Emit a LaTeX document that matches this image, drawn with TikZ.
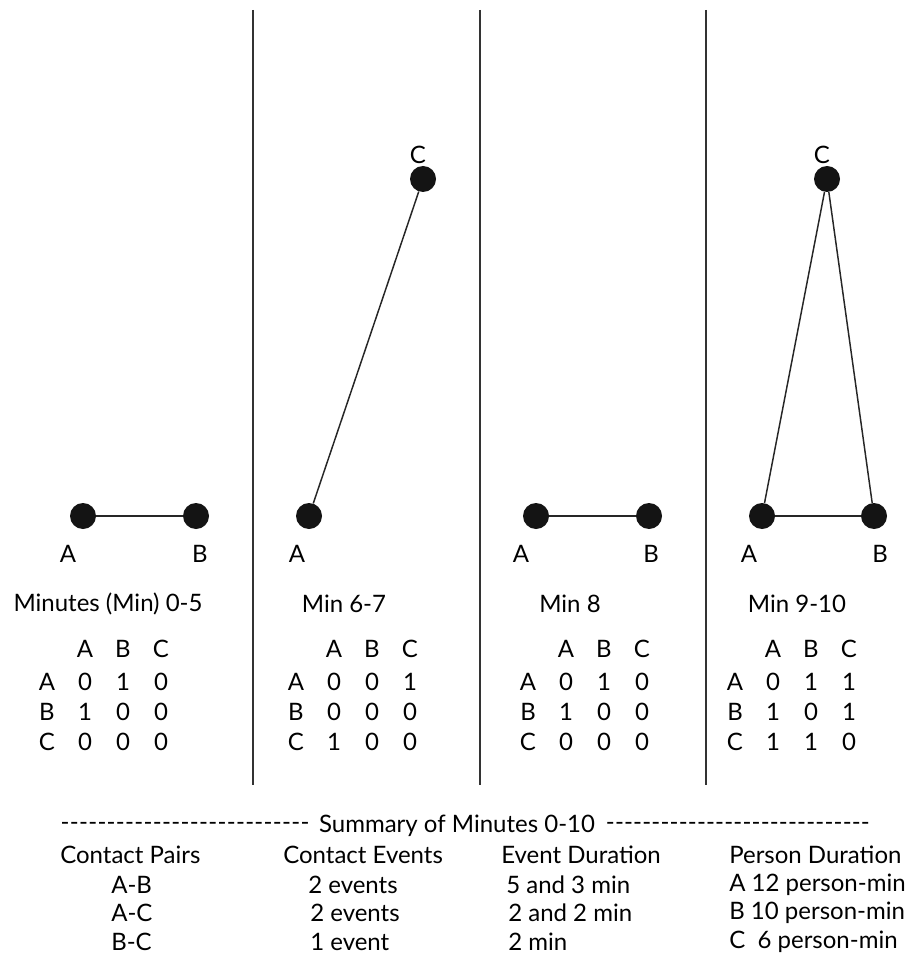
\documentclass[tikz,border=0pt]{standalone}
\usepackage{fontspec}
\setmainfont{Lato}[Ligatures=TeXOff]
\usepackage{array}
\newcolumntype{Q}{>{\centering\arraybackslash}p{28.5pt}}
\newcommand{\adjtab}[3]{\setlength{\tabcolsep}{0pt}\begin{tabular}{@{}QQQQ@{}}
 & A & B & C\\[2pt]
A & #1\\
B & #2\\
C & #3
\end{tabular}}
\newcommand{\dashfill}[1]{\hbox to #1{\xleaders\hbox{-}\hfill}}
\tikzset{
  dot/.style={circle,fill=black!92,draw=none,minimum size=19.5pt,inner sep=0pt},
  edge/.style={line width=1.1pt,black!85},
  sep/.style={line width=1.2pt,black!80},
  lbl/.style={inner sep=0pt,font=\fontsize{18}{22.5}\selectfont}
}
\begin{document}
\begin{tikzpicture}[x=0.75pt,y=0.75pt,yscale=-1,xscale=1]
\useasboundingbox (0,0) rectangle (909,955);

%Straight Lines (panel dividers)
\draw [sep] (253,10) -- (253,785) ;
\draw [sep] (480,10) -- (480,785) ;
\draw [sep] (706,10) -- (706,785) ;

% Panel 1: Minutes 0-5
\node [dot] (a1) at (83,516) {};
\node [dot] (b1) at (196,516) {};
\draw [edge] (a1) -- (b1) ;
\node [lbl] (la1) at (68,554) {A};
\node [lbl] (lb1) at (200,554) {B};
\node [lbl] (t1) at (108,604) {Minutes (Min) 0-5};
\node [lbl] (m1) at (104,698) {\adjtab{0 & 1 & 0}{1 & 0 & 0}{0 & 0 & 0}};

% Panel 2: Min 6-7
\node [dot] (a2) at (309,516) {};
\node [dot] (c2) at (423,179) {};
\draw [edge] (a2) -- (c2) ;
\node [lbl] (la2) at (297,554) {A};
\node [lbl] (lc2) at (418,155) {C};
\node [lbl] (t2) at (344,604) {Min 6-7};
\node [lbl] (m2) at (353,698) {\adjtab{0 & 0 & 1}{0 & 0 & 0}{1 & 0 & 0}};

% Panel 3: Min 8
\node [dot] (a3) at (536,516) {};
\node [dot] (b3) at (649,516) {};
\draw [edge] (a3) -- (b3) ;
\node [lbl] (la3) at (521,554) {A};
\node [lbl] (lb3) at (651,554) {B};
\node [lbl] (t3) at (570,604) {Min 8};
\node [lbl] (m3) at (585,698) {\adjtab{0 & 1 & 0}{1 & 0 & 0}{0 & 0 & 0}};

% Panel 4: Min 9-10
\node [dot] (a4) at (762,516) {};
\node [dot] (b4) at (874,516) {};
\node [dot] (c4) at (827,179) {};
\draw [edge] (a4) -- (b4) ;
\draw [edge] (a4) -- (c4) ;
\draw [edge] (b4) -- (c4) ;
\node [lbl] (la4) at (749,554) {A};
\node [lbl] (lb4) at (880,554) {B};
\node [lbl] (lc4) at (822,155) {C};
\node [lbl] (t4) at (797,604) {Min 9-10};
\node [lbl] (m4) at (792,698) {\adjtab{0 & 1 & 1}{1 & 0 & 1}{1 & 1 & 0}};

% Summary
\node [lbl] (sum) at (457,826) {Summary of Minutes 0-10};
\node [lbl,anchor=west] (sumL) at (60,826) {\dashfill{187pt}};
\node [lbl,anchor=east] (sumR) at (870,826) {\dashfill{198pt}};
\node [lbl,anchor=west] (h1) at (60,855) {Contact Pairs};
\node [lbl,anchor=west] (h2) at (283,855) {Contact Events};
\node [lbl,anchor=west] (h3) at (501,855) {Event Duration};
\node [lbl,anchor=west] (h4) at (729,855) {Person Duration};

\node [lbl,anchor=west] (p1) at (111,885) {A-B};
\node [lbl,anchor=west] (p2) at (111,913) {A-C};
\node [lbl,anchor=west] (p3) at (111,942) {B-C};
\node [lbl,anchor=west] (e1) at (308,885) {2 events};
\node [lbl,anchor=west] (e2) at (310,913) {2 events};
\node [lbl,anchor=west] (e3) at (310,942) {1 event};
\node [lbl,anchor=west] (d1) at (506,885) {5 and 3 min};
\node [lbl,anchor=west] (d2) at (508,913) {2 and 2 min};
\node [lbl,anchor=west] (d3) at (508,942) {2 min};
\node [lbl,anchor=west] (q1) at (729,885) {A 12 person-min};
\node [lbl,anchor=west] (q2) at (729,913) {B 10 person-min};
\node [lbl,anchor=west] (q3) at (729,942) {C~~6 person-min};

\end{tikzpicture}
\end{document}
